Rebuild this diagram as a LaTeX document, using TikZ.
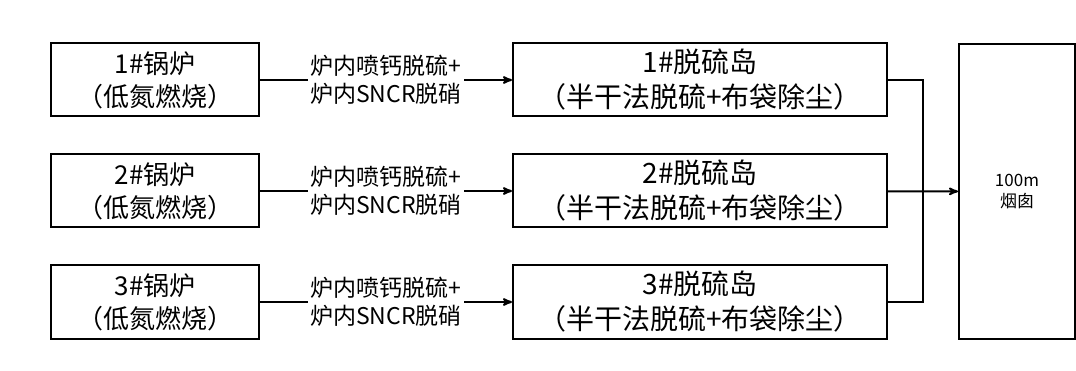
\documentclass[tikz,border=0pt]{standalone}
\usepackage{fontspec}
\setmainfont{Noto Sans CJK SC}
\usetikzlibrary{arrows, positioning}
\tikzset{
        >=stealth', % arrow heads
        box/.style={draw, line width=2pt, minimum height=73pt, align=center, inner sep=0pt}, % every block
        boiler/.style={box, minimum width=208pt, font=\fontsize{26}{33}\selectfont},
        island/.style={box, minimum width=374pt, font=\fontsize{28}{35}\selectfont},
        process/.style={fill=white, align=center, inner sep=2pt, font=\fontsize{23}{28}\selectfont}, % text on the arrows
    }

\begin{document}
\begin{tikzpicture}[x=1pt, y=-1pt, node distance=111pt]
    \useasboundingbox (0,0) rectangle (1076,371);
    \node[boiler] (g1) at (155,80) {1\#锅炉\\（低氮燃烧）};
    \node[boiler, below of=g1] (g2) {2\#锅炉\\（低氮燃烧）};
    \node[boiler, below of=g2] (g3) {3\#锅炉\\（低氮燃烧）};
    \node[island, right of=g1, xshift=434pt] (t1) {1\#脱硫岛\\（半干法脱硫+布袋除尘）};
    \node[island, right of=g2, xshift=434pt] (t2) {2\#脱硫岛\\（半干法脱硫+布袋除尘）};
    \node[island, right of=g3, xshift=434pt] (t3) {3\#脱硫岛\\（半干法脱硫+布袋除尘）};
    \node[box, minimum width=116pt, minimum height=295pt, font=\fontsize{17}{21}\selectfont] (s) at (1017,191.5) {100m\\烟囱};
    \coordinate (m) at (923,191.5);
    \draw[->, line width=2pt]
      (g1) edge node[process]{炉内喷钙脱硫+\\炉内SNCR脱硝} (t1)
      (g2) edge node[process]{炉内喷钙脱硫+\\炉内SNCR脱硝} (t2)
      (g3) edge node[process]{炉内喷钙脱硫+\\炉内SNCR脱硝} (t3)
      (t2) edge (s);
    \draw[line width=2pt] (t1.east) -| (m) |- (t3.east);
  \end{tikzpicture}
\end{document}
